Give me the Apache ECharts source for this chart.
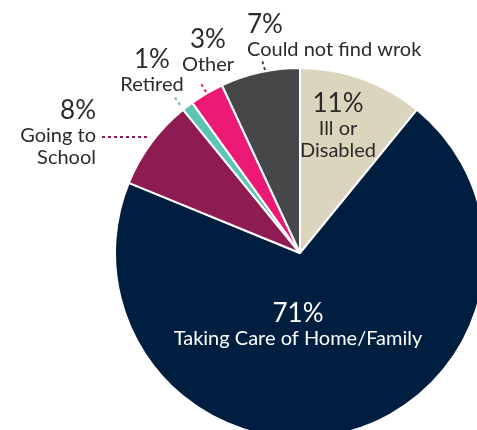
<!DOCTYPE html>
<html>
<head>
<meta charset="utf-8">
<script src="https://cdn.jsdelivr.net/npm/echarts@6/dist/echarts.min.js"></script>
<style>
html,body{margin:0;padding:0;background:#fff;}
#chart{width:477px;height:430px;}
</style>
</head>
<body>
<div id="chart"></div>
<script>
// Data
const categories = ['Ill or\nDisabled', 'Taking Care of Home/Family', 'Going to\nSchool', 'Retired', 'Other', 'Could not find wrok'];
const values = [11, 71, 8, 1, 3, 7];
const percentLabels = ['11%', '71%', '8%', '1%', '3%', '7%'];

// Styles / layout (kept apart from data)
const colors = ['#dbd5bd', '#001f40', '#8e1c52', '#5bc4b4', '#ec1a75', '#464749'];
const labelColors = ['#2b2b2b', '#ffffff', '#2b2b2b', '#2b2b2b', '#2b2b2b', '#2b2b2b'];
const labelAnchors = [
  {x: 338, y: 90, align: 'center'},
  {x: 298, y: 300, align: 'center'},
  {x: 96, y: 97, align: 'right'},
  {x: 152, y: 46, align: 'center'},
  {x: 208, y: 26, align: 'center'},
  {x: 247, y: 11, align: 'left'}
];
const lineColors = [null, null, '#8e1c52', '#5bc4b4', '#ec1a75', '#464749'];
const linePts = [
  null, null,
  [[147, 137], [102, 137]],
  [[180, 105], [174, 96]],
  [[206, 92], [200, 82]],
  [[265, 70], [262, 60]]
];

const chart = echarts.init(document.getElementById('chart'), null, {renderer: 'canvas'});
const font = 'Lato, "Noto Sans", sans-serif';

const data = categories.map((name, i) => ({
  name: name,
  value: values[i],
  itemStyle: {color: colors[i]},
  label: {
    show: true,
    position: 'outside',
    overflow: 'none',
    formatter: '{p|' + percentLabels[i] + '}\n{n|' + name + '}',
    align: labelAnchors[i].align,
    rich: {
      p: {fontSize: 26, lineHeight: 28, color: labelColors[i], fontFamily: font, align: labelAnchors[i].align},
      n: {fontSize: 20, lineHeight: 22, color: labelColors[i], fontFamily: font, align: labelAnchors[i].align}
    }
  },
  labelLine: {
    show: !!linePts[i],
    lineStyle: {color: lineColors[i] || '#000', width: 2, type: [3, 3]}
  }
}));

chart.setOption({
  animation: false,
  series: [{
    type: 'pie',
    center: [300, 253],
    radius: 185,
    startAngle: 90,
    clockwise: true,
    itemStyle: {borderColor: '#ffffff', borderWidth: 2},
    labelLine: {length: 10, length2: 10},
    data: data,
    labelLayout: function (params) {
      const i = params.dataIndex;
      const a = labelAnchors[i];
      const r = {x: a.x, y: a.y, align: a.align, verticalAlign: 'top'};
      if (linePts[i]) r.labelLinePoints = linePts[i];
      return r;
    }
  }]
});
</script>
</body>
</html>
